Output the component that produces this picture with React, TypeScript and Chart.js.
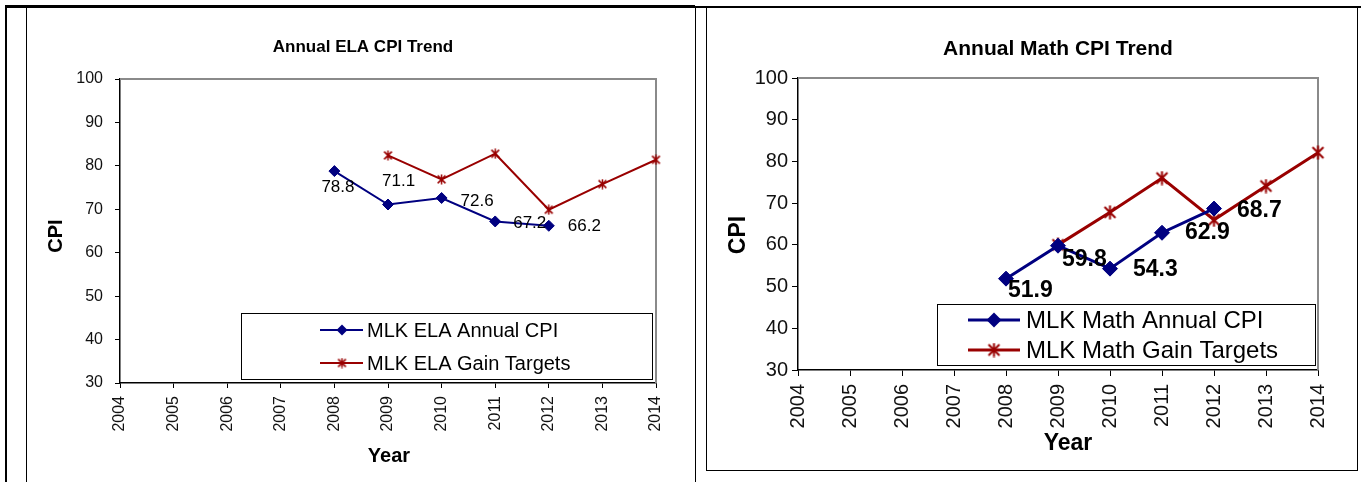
import React, { useEffect, useRef } from "react";
import { Chart, registerables } from "chart.js";

Chart.register(...registerables);

// ---------- data ----------
const years = ["2004", "2005", "2006", "2007", "2008", "2009", "2010", "2011", "2012", "2013", "2014"];
const elaAnnual = [null, null, null, null, 78.8, 71.1, 72.6, 67.2, 66.2, null, null];
const elaTargets = [null, null, null, null, null, 82.4, 76.9, 82.8, 69.9, 75.8, 81.4];
const mathAnnual = [null, null, null, null, 51.9, 59.8, 54.3, 62.9, 68.7, null, null];
const mathTargets = [null, null, null, null, null, 60.0, 67.8, 76.0, 66.0, 74.1, 82.1];
const yMin = 30;
const yMax = 100;
const yStep = 10;

const FONT = "'Liberation Sans', Arial, Helvetica, sans-serif";
const BLUE = "#000080";
const RED = "#990000";

type Spec = {
  left: number; top: number; w: number; h: number;
  area: { l: number; t: number; r: number; b: number };
  title: string; titleFont: string; titleX: number; titleY: number;
  yTitleFont: string; yTitleX: number; yTitleY: number;
  xTitleFont: string; xTitleX: number; xTitleY: number;
  yTickSize: number; yTickPad: number; xTickSize: number; xTickPad: number; tickLen: number;
  legBox: { l: number; t: number; r: number; b: number };
  legRows: number[]; legLine: number[]; legMarkerX: number; legTextX: number; legFont: string;
  labelFont: string; labelOffsets: number[][];
  lineWidth: number; diamondR: number; starSize: number; starLW: number;
  names: string[];
  annual: (number | null)[]; targets: (number | null)[];
};

function makeStar(size: number, color: string, lw: number) {
  const c = document.createElement("canvas");
  c.width = size;
  c.height = size;
  const g = c.getContext("2d")!;
  g.strokeStyle = color;
  g.lineWidth = lw;
  const m = size / 2;
  const r = size / 2 - 0.5;
  const d = r * 0.78;
  g.beginPath();
  g.moveTo(m, m - r); g.lineTo(m, m + r);
  g.moveTo(m - d, m - d); g.lineTo(m + d, m + d);
  g.moveTo(m + d, m - d); g.lineTo(m - d, m + d);
  g.stroke();
  return c;
}

function buildConfig(s: Spec): any {
  const star = makeStar(s.starSize, RED, s.starLW);
  const px = (x: number) => x - s.left;
  const py = (y: number) => y - s.top;

  const overlay = {
    id: "overlay",
    beforeDatasetsDraw(chart: any) {
      const ctx = chart.ctx;
      const a = chart.chartArea;
      ctx.save();
      ctx.strokeStyle = "#8a8a8a";
      ctx.lineWidth = 2;
      ctx.beginPath();
      ctx.moveTo(a.left, a.top);
      ctx.lineTo(a.right, a.top);
      ctx.lineTo(a.right, a.bottom);
      ctx.stroke();
      ctx.restore();
    },
    afterDatasetsDraw(chart: any) {
      const ctx = chart.ctx;
      ctx.save();
      // data labels for the annual series
      const meta = chart.getDatasetMeta(0);
      const vals = chart.data.datasets[0].data;
      ctx.font = s.labelFont;
      ctx.fillStyle = "#000";
      ctx.textAlign = "left";
      ctx.textBaseline = "middle";
      let k = 0;
      vals.forEach((v: number | null, i: number) => {
        if (v == null) return;
        const p = meta.data[i];
        const o = s.labelOffsets[k++] || [0, 0];
        ctx.fillText(v.toFixed(1), p.x + o[0], p.y + o[1]);
      });

      // chart title
      ctx.font = s.titleFont;
      ctx.textAlign = "center";
      ctx.textBaseline = "alphabetic";
      ctx.fillText(s.title, px(s.titleX), py(s.titleY));

      // axis titles
      ctx.font = s.xTitleFont;
      ctx.fillText("Year", px(s.xTitleX), py(s.xTitleY));
      ctx.save();
      ctx.translate(px(s.yTitleX), py(s.yTitleY));
      ctx.rotate(-Math.PI / 2);
      ctx.font = s.yTitleFont;
      ctx.fillText("CPI", 0, 0);
      ctx.restore();

      // legend
      const L = s.legBox;
      ctx.fillStyle = "#fff";
      ctx.fillRect(px(L.l), py(L.t), L.r - L.l, L.b - L.t);
      ctx.strokeStyle = "#000";
      ctx.lineWidth = 1;
      ctx.strokeRect(px(L.l) + 0.5, py(L.t) + 0.5, L.r - L.l, L.b - L.t);
      chart.data.datasets.forEach((d: any, j: number) => {
        const y = py(s.legRows[j]);
        ctx.strokeStyle = d.borderColor;
        ctx.lineWidth = d.borderWidth;
        ctx.beginPath();
        ctx.moveTo(px(s.legLine[0]), y);
        ctx.lineTo(px(s.legLine[1]), y);
        ctx.stroke();
        const mx = px(s.legMarkerX);
        if (j === 0) {
          const r = s.diamondR;
          ctx.fillStyle = d.pointBackgroundColor;
          ctx.beginPath();
          ctx.moveTo(mx - r, y);
          ctx.lineTo(mx, y - r);
          ctx.lineTo(mx + r, y);
          ctx.lineTo(mx, y + r);
          ctx.closePath();
          ctx.fill();
        } else {
          ctx.drawImage(star, mx - star.width / 2, y - star.height / 2);
        }
        ctx.fillStyle = "#000";
        ctx.font = s.legFont;
        ctx.textAlign = "left";
        ctx.textBaseline = "middle";
        ctx.fillText(d.label, px(s.legTextX), y + 1);
      });
      ctx.restore();
    },
  };

  const areaL = px(s.area.l);
  const areaR = px(s.area.r);
  const areaT = py(s.area.t);
  const areaB = py(s.area.b);

  return {
    type: "line",
    data: {
      labels: years,
      datasets: [
        {
          label: s.names[0],
          data: s.annual,
          borderColor: BLUE,
          backgroundColor: BLUE,
          borderWidth: s.lineWidth,
          pointStyle: "rectRot",
          pointRadius: s.diamondR,
          pointBackgroundColor: BLUE,
          pointBorderColor: BLUE,
          pointBorderWidth: 1,
          tension: 0,
          fill: false,
        },
        {
          label: s.names[1],
          data: s.targets,
          borderColor: RED,
          backgroundColor: RED,
          borderWidth: s.lineWidth,
          pointStyle: star,
          pointRadius: s.starSize / 2,
          tension: 0,
          fill: false,
        },
      ],
    },
    options: {
      animation: false,
      responsive: false,
      devicePixelRatio: window.devicePixelRatio || 1,
      layout: { padding: { left: 0, top: areaT, right: s.w - areaR, bottom: 0 } },
      plugins: {
        legend: { display: false },
        title: { display: false },
        tooltip: { enabled: false },
      },
      scales: {
        x: {
          type: "category",
          offset: false,
          grid: { drawOnChartArea: false, drawTicks: true, tickLength: s.tickLen, color: "#000", lineWidth: 1 },
          border: { display: true, color: "#000", width: 1.5 },
          ticks: {
            autoSkip: false,
            minRotation: 90,
            maxRotation: 90,
            padding: s.xTickPad,
            color: "#111",
            font: { family: FONT, size: s.xTickSize },
          },
          afterFit(scale: any) {
            scale.height = s.h - areaB;
          },
        },
        y: {
          min: yMin,
          max: yMax,
          grid: { drawOnChartArea: false, drawTicks: true, tickLength: s.tickLen, color: "#000", lineWidth: 1 },
          border: { display: true, color: "#000", width: 1.5 },
          ticks: {
            stepSize: yStep,
            padding: s.yTickPad,
            color: "#111",
            font: { family: FONT, size: s.yTickSize },
          },
          afterFit(scale: any) {
            scale.width = areaL;
          },
        },
      },
    },
    plugins: [overlay],
  };
}

const elaSpec: Spec = {
  left: 27, top: 8, w: 668, h: 474,
  area: { l: 120, t: 79, r: 656, b: 383 },
  title: "Annual ELA CPI Trend", titleFont: `bold 17px ${FONT}`, titleX: 363, titleY: 52,
  yTitleFont: `bold 20px ${FONT}`, yTitleX: 62, yTitleY: 236,
  xTitleFont: `bold 20px ${FONT}`, xTitleX: 389, xTitleY: 462,
  yTickSize: 16, yTickPad: 12, xTickSize: 16, xTickPad: 8, tickLen: 5,
  legBox: { l: 241, t: 313, r: 652, b: 379 },
  legRows: [330, 363], legLine: [320, 363], legMarkerX: 342, legTextX: 367, legFont: `20px ${FONT}`,
  labelFont: `17px ${FONT}`,
  labelOffsets: [[-13, 16], [-6, -23], [19, 3], [18, 2], [19, 1]],
  lineWidth: 2, diamondR: 5.5, starSize: 11, starLW: 1.5,
  names: ["MLK ELA Annual CPI", "MLK ELA Gain Targets"],
  annual: elaAnnual, targets: elaTargets,
};

const mathSpec: Spec = {
  left: 707, top: 8, w: 649, h: 461,
  area: { l: 798, t: 78, r: 1318, b: 370 },
  title: "Annual Math CPI Trend", titleFont: `bold 21px ${FONT}`, titleX: 1058, titleY: 55,
  yTitleFont: `bold 23px ${FONT}`, yTitleX: 745, yTitleY: 235,
  xTitleFont: `bold 23px ${FONT}`, xTitleX: 1068, xTitleY: 450,
  yTickSize: 20, yTickPad: 4, xTickSize: 20, xTickPad: 8, tickLen: 6,
  legBox: { l: 937, t: 304, r: 1315, b: 365 },
  legRows: [320, 350], legLine: [968, 1020], legMarkerX: 994, legTextX: 1026, legFont: `24px ${FONT}`,
  labelFont: `bold 23px ${FONT}`,
  labelOffsets: [[2, 12], [4, 14], [23, 1], [23, 0], [23, 2]],
  lineWidth: 3, diamondR: 7.5, starSize: 15, starLW: 2,
  names: ["MLK Math Annual CPI", "MLK Math Gain Targets"],
  annual: mathAnnual, targets: mathTargets,
};

function ChartCanvas({ spec }: { spec: Spec }) {
  const ref = useRef<HTMLCanvasElement>(null);
  useEffect(() => {
    const chart = new Chart(ref.current!, buildConfig(spec));
    return () => chart.destroy();
  }, [spec]);
  return (
    <canvas
      ref={ref}
      width={spec.w}
      height={spec.h}
      style={{ position: "absolute", left: spec.left, top: spec.top, width: spec.w, height: spec.h }}
    />
  );
}

const line = (l: number, t: number, w: number, h: number): React.CSSProperties => ({
  position: "absolute", left: l, top: t, width: w, height: h, background: "#000",
});

export default function App() {
  return (
    <div style={{ position: "fixed", left: 0, top: 0, width: 1362, height: 482, background: "#fff", overflow: "hidden" }}>
      <div style={line(5, 5, 690, 3)} />
      <div style={line(695, 6, 666, 2)} />
      <div style={line(5, 5, 2, 477)} />
      <div style={line(26, 7, 1, 475)} />
      <div style={line(695, 7, 1, 475)} />
      <div
        style={{
          position: "absolute", left: 706, top: 7, width: 650, height: 463,
          borderLeft: "1px solid #000", borderRight: "1px solid #000", borderBottom: "1px solid #000",
        }}
      />
      <ChartCanvas spec={elaSpec} />
      <ChartCanvas spec={mathSpec} />
    </div>
  );
}
